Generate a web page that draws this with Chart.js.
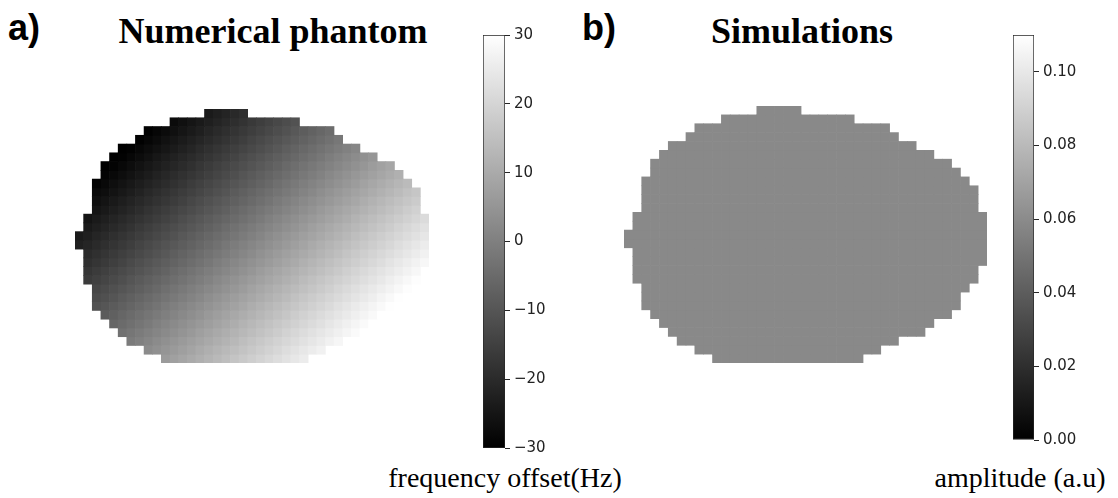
<!DOCTYPE html>
<html>
<head>
<meta charset="utf-8">
<title>Phantom and simulation</title>
<script src="https://cdn.jsdelivr.net/npm/chart.js@4.4.1/dist/chart.umd.min.js"></script>
<style>
  html, body { margin: 0; padding: 0; background: #fff; }
  #fig { position: relative; width: 1118px; height: 498px; overflow: hidden; background: #fff; }
  #fig canvas { position: absolute; }
  .txt { position: absolute; white-space: nowrap; line-height: 1; color: #000; }
  .tag { font: bold 36px "Liberation Sans", Arial, sans-serif; }
  .title { font: bold 36px "Liberation Serif", "Times New Roman", serif; text-align: center; width: 400px; }
  .cb-label { font: 28px "Liberation Serif", "Times New Roman", serif; text-align: center; width: 300px; }
</style>
</head>
<body>
<div id="fig">
  <div class="txt tag" style="left:8px; top:7px">a)</div>
  <div class="txt title" style="left:73px; top:10px">Numerical phantom</div>
  <div class="txt tag" style="left:582px; top:7px">b)</div>
  <div class="txt title" style="left:602px; top:10px">Simulations</div>

  <canvas id="phantom" width="354" height="254" style="left:75px; top:109px"></canvas>
  <canvas id="phantom-cb" width="72" height="439" style="left:483px; top:22px"></canvas>
  <canvas id="sim" width="363" height="257" style="left:624px; top:106px"></canvas>
  <canvas id="sim-cb" width="71" height="431" style="left:1013px; top:22px"></canvas>

  <div class="txt cb-label" style="left:355px; top:462px">frequency offset(Hz)</div>
  <div class="txt cb-label" style="left:870px; top:462px">amplitude (a.u)</div>
</div>

<script>
// object mask: first and last filled column of every image row (top to bottom)
const rowStart = [15, 11, 8, 7, 5, 4, 3, 3, 2, 2, 2, 2, 1, 1, 0, 0, 1, 1, 1, 1, 2, 2, 2, 3, 4, 5, 6, 8, 10];
const rowEnd   = [19, 25, 29, 30, 32, 34, 36, 37, 38, 39, 39, 39, 40, 40, 40, 40, 40, 40, 39, 39, 38, 37, 37, 36, 34, 33, 30, 28, 26];

// field map of the phantom (Hz): column part + row part
const colHz = [-21.0, -19.8, -18.6, -17.4, -16.2, -15.0, -13.8, -12.6, -11.4, -10.2,
               -9.0, -7.8, -6.6, -5.4, -4.2, -3.0, -1.8, -0.6, 0.6, 1.8,
               3.0, 4.2, 5.4, 6.6, 7.8, 9.0, 10.2, 11.4, 12.6, 13.8,
               15.0, 16.2, 17.4, 18.6, 19.8, 21.0, 22.2, 23.4, 24.6, 25.8, 27.0];
const rowHz = [-21.0, -19.7, -18.4, -17.1, -15.8, -14.5, -13.2, -11.9, -10.6, -9.3,
               -8.0, -6.7, -5.4, -4.1, -2.8, -1.5, -0.2, 1.1, 2.4, 3.7,
               5.0, 6.3, 7.6, 8.9, 10.2, 11.5, 12.8, 14.1, 15.4];
const freqRange = [-30, 30];
const freqTicks = [-30, -20, -10, 0, 10, 20, 30];

// simulated amplitude, flat inside the mask
const simAmplitude = 0.059;
const ampRange = [0, 0.11];
const ampTicks = [0, 0.02, 0.04, 0.06, 0.08, 0.10];

const nRows = rowHz.length;

function grey(v, range) {
  const g = Math.min(1, Math.max(0, (v - range[0]) / (range[1] - range[0])));
  const k = Math.round(g * 255);
  return `rgb(${k},${k},${k})`;
}

const baseOptions = {
  responsive: false,
  animation: false,
  events: [],
  plugins: { legend: { display: false }, tooltip: { enabled: false } },
};

// one floating-bar dataset per image row, one category per column
function heatmap(id, valueAt, range) {
  const labels = colHz.map((_, c) => c);
  const datasets = rowHz.map((_, r) => ({
    data: labels.map(c => (c >= rowStart[r] && c <= rowEnd[r]) ? [r, r + 1] : null),
    backgroundColor: labels.map(c => grey(valueAt(c, r), range)),
    borderWidth: 0,
    grouped: false,
    barPercentage: 1,
    categoryPercentage: 1,
  }));

  return new Chart(document.getElementById(id), {
    type: 'bar',
    data: { labels, datasets },
    options: {
      ...baseOptions,
      layout: { padding: 0, autoPadding: false },
      scales: {
        x: { display: false },
        y: { display: false, min: 0, max: nRows, reverse: true },
      },
    },
  });
}

// single bar filled black -> white, axis on the right
function colorbar(id, range, ticks, fmt) {
  return new Chart(document.getElementById(id), {
    type: 'bar',
    data: {
      labels: [''],
      datasets: [{
        data: [range],
        backgroundColor: (ctx) => {
          const area = ctx.chart.chartArea;
          if (!area) return '#888';
          const g = ctx.chart.ctx.createLinearGradient(0, area.bottom, 0, area.top);
          g.addColorStop(0, '#000');
          g.addColorStop(1, '#fff');
          return g;
        },
        borderColor: '#262626',
        borderWidth: 1,
        borderSkipped: false,
        barPercentage: 1,
        categoryPercentage: 1,
      }],
    },
    options: {
      ...baseOptions,
      layout: { padding: { top: 10, bottom: 10, left: 0, right: 0 }, autoPadding: false },
      scales: {
        x: { display: false },
        y: {
          position: 'right',
          min: range[0],
          max: range[1],
          afterFit: (s) => { s.width = 50; },
          afterBuildTicks: (s) => { s.ticks = ticks.map(value => ({ value })); },
          grid: { drawOnChartArea: false, drawTicks: true, tickLength: 5, tickWidth: 1, color: '#262626' },
          border: { display: false },
          ticks: {
            color: '#222',
            padding: 4,
            font: { family: 'DejaVu Sans', size: 15 },
            callback: (v) => fmt(v),
          },
        },
      },
    },
  });
}

heatmap('phantom', (c, r) => colHz[c] + rowHz[r], freqRange);
colorbar('phantom-cb', freqRange, freqTicks, v => String(v).replace('-', '\u2212'));

heatmap('sim', () => simAmplitude, ampRange);
colorbar('sim-cb', ampRange, ampTicks, v => v.toFixed(2));
</script>
</body>
</html>
